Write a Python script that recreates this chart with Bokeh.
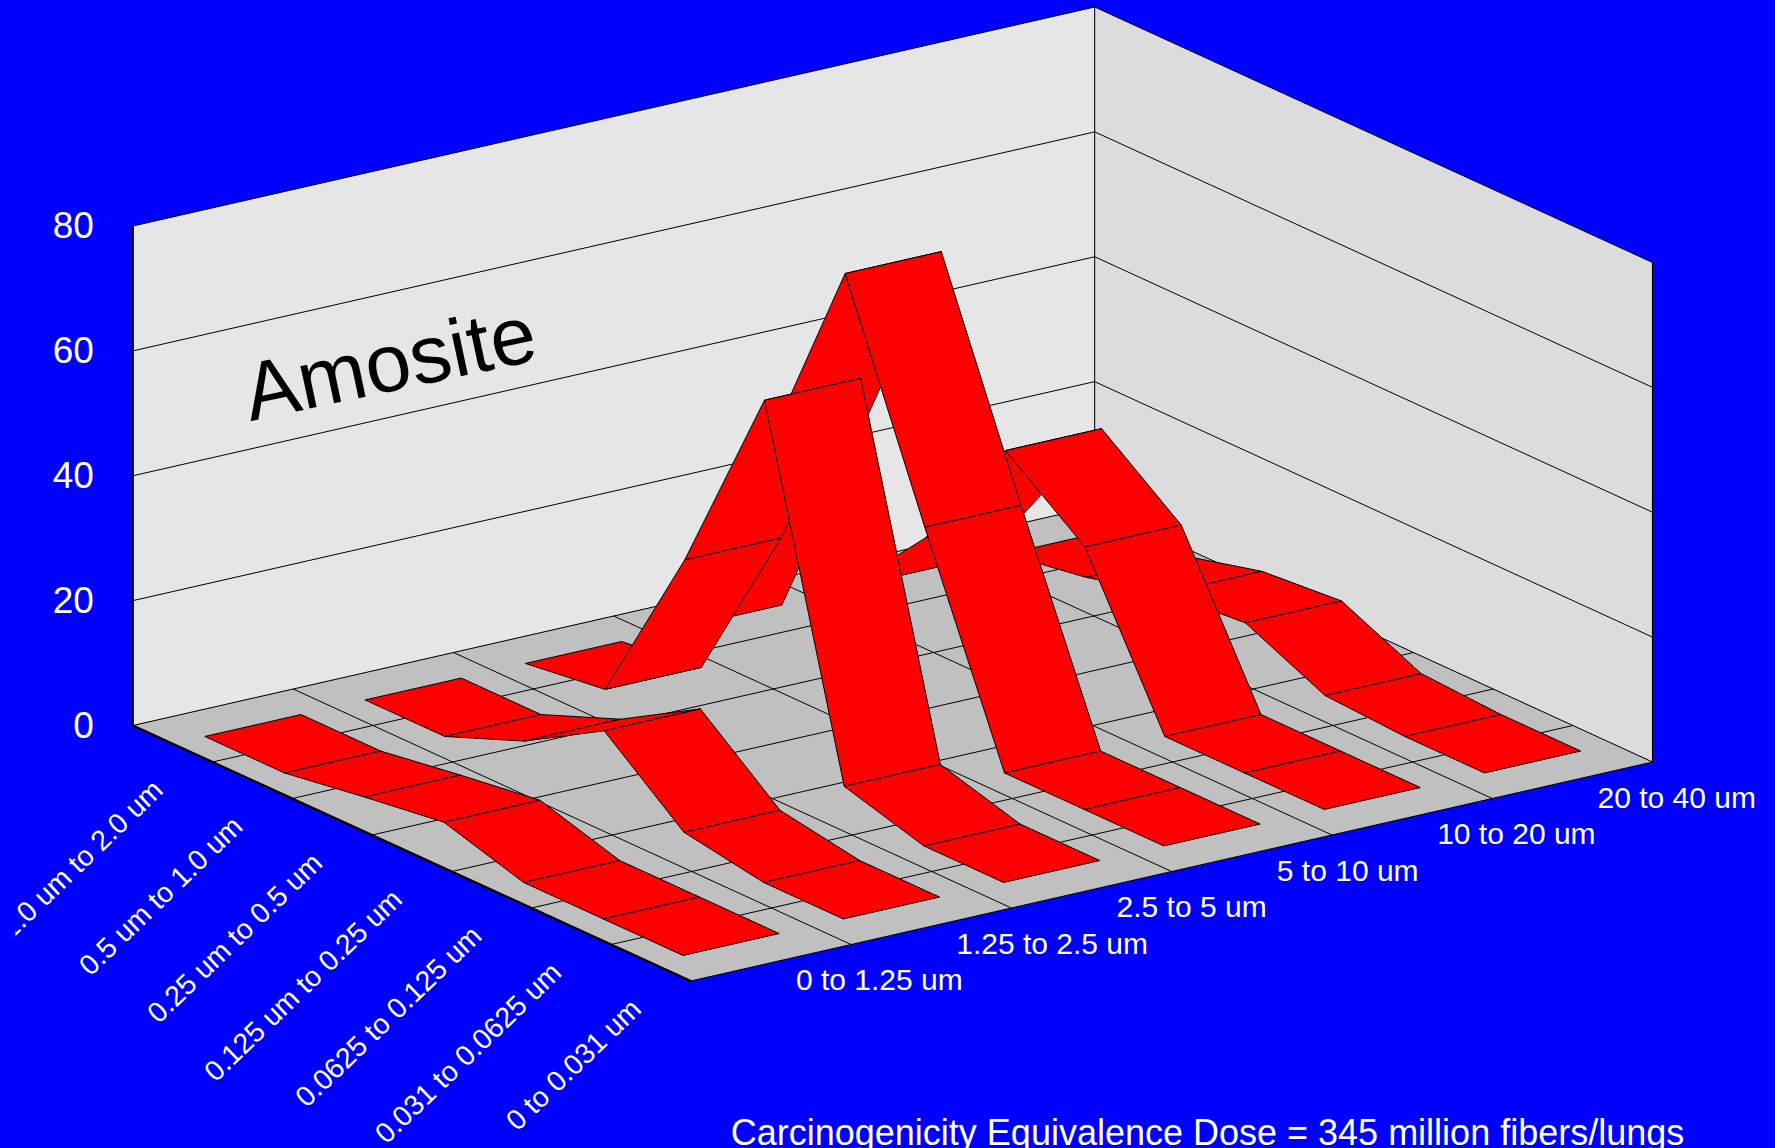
from bokeh.core.properties import value
from bokeh.embed import file_html
from bokeh.models import Range1d
from bokeh.plotting import figure
from bokeh.resources import INLINE
import math

# Fibre length classes, front ribbon first
length_labels = ["0 to 1.25 um", "1.25 to 2.5 um", "2.5 to 5 um",
                 "5 to 10 um", "10 to 20 um", "20 to 40 um"]
# Fibre width classes, back of the floor first
width_labels = ["1.0 um to 2.0 um", "0.5 um to 1.0 um", "0.25 um to 0.5 um",
                "0.125 um to 0.25 um", "0.0625 to 0.125 um",
                "0.031 to 0.0625 um", "0 to 0.031 um"]
z_ticks = [0, 20, 40, 60, 80]

# One list per length class, one value per width class
len_0_125 = [0, 0, 2.0, 3.8, 0, 0, 0]
len_125_25 = [0, 0, 5.1, 12.6, 2.2, 0, 0]
len_25_5 = [0, 1.7, 28.3, 59.7, 3.7, 0, 0]
len_5_10 = [0, 34.0, 68.3, 33.5, 0, 0, 0]
len_10_20 = [0.4, 14.3, 34.1, 24.5, 0, 0, 0]
len_20_40 = [0, 2.1, 5.4, 6.5, 0.7, 0, 0]
ribbons = [len_0_125, len_125_25, len_25_5, len_5_10, len_10_20, len_20_40]

title_text = "Carcinogenicity Equivalence Dose = 345 million fibers/lungs"
fiber_type = "Amosite"

W, H = 1775, 1148
LEFT_MARGIN = 15  # the plot frame starts here, and text running past it is clipped
FONT = value("Liberation Sans")

# Axonometric projection of the box: floor origin, floor axes and height scale
ORIGIN = (132.4, 725.0)
U_STEP = (79.7, 36.5)
V_STEP = (160.3, -36.5)
Z_PX = 499.5 / 80.0
NU, NV = len(width_labels), len(length_labels)
RIBBON_GAP = 0.2


def project(u, v, z=0.0):
    return (ORIGIN[0] + u * U_STEP[0] + v * V_STEP[0],
            ORIGIN[1] + u * U_STEP[1] + v * V_STEP[1] - z * Z_PX)


def poly(points):
    xy = [project(*pt) for pt in points]
    return [a for a, _ in xy], [b for _, b in xy]


# The blue comes from the element's own background, so frame and border leave no seam
p = figure(width=W, height=H, x_range=Range1d(LEFT_MARGIN, W), y_range=Range1d(H, 0),
           output_backend="svg", toolbar_location=None,
           min_border=0, min_border_left=LEFT_MARGIN,
           background_fill_color=None, border_fill_color=None,
           outline_line_color=None, styles={"background-color": "#0000FF"})
p.axis.visible = False
p.grid.visible = False

zmax = z_ticks[-1]

# Walls and floor
for pts, color in [
    ([(0, 0, 0), (0, NV, 0), (0, NV, zmax), (0, 0, zmax)], "#E6E6E6"),
    ([(0, NV, 0), (NU, NV, 0), (NU, NV, zmax), (0, NV, zmax)], "#DCDCDC"),
]:
    xs, ys = poly(pts)
    p.patch(xs, ys, fill_color=color, line_color=None)
xs, ys = poly([(0, 0), (NU, 0), (NU, NV), (0, NV)])
p.patch(xs, ys, fill_color="#C0C0C0", line_color=None)

# Wall rules at each height tick, plus the box's vertical corner and end edges
for t in z_ticks:
    xs, ys = poly([(0, 0, t), (0, NV, t), (NU, NV, t)])
    p.line(xs, ys, line_color="black", line_width=1)
xs, ys = poly([(0, NV, 0), (0, NV, zmax)])
p.line(xs, ys, line_color="black", line_width=1)
xs, ys = poly([(0, 0, 0), (0, 0, zmax)])
p.line(xs, ys, line_color="black", line_width=2)
xs, ys = poly([(NU, NV, 0), (NU, NV, zmax)])
p.line(xs, ys, line_color="black", line_width=1.4)

# Floor grid
for u in range(1, NU):
    xs, ys = poly([(u, 0), (u, NV)])
    p.line(xs, ys, line_color="black", line_width=1)
for v in range(1, NV):
    xs, ys = poly([(0, v), (NU, v)])
    p.line(xs, ys, line_color="black", line_width=1)
xs, ys = poly([(NU, 0), (NU, NV)])
p.line(xs, ys, line_color="black", line_width=1)
xs, ys = poly([(0, 0), (NU, 0)])
p.line(xs, ys, line_color="black", line_width=2.2)

# Ribbons, painted from the back of the box towards the viewer
for i in reversed(range(NV)):
    series = ribbons[i]
    v0, v1 = i + RIBBON_GAP, i + 1 - RIBBON_GAP
    for j in range(NU - 1):
        u0, u1 = j + 0.5, j + 1.5
        xs, ys = poly([(u0, v0, series[j]), (u0, v1, series[j]),
                       (u1, v1, series[j + 1]), (u1, v0, series[j + 1])])
        p.patch(xs, ys, fill_color="#FF0000", line_color="black", line_width=1,
                line_join="miter")

# Height tick labels
for t in z_ticks:
    x, y = project(0, 0, t)
    p.text([x - 39], [y - 1], text=[str(t)], text_color="white", text_font=FONT,
           text_font_size="37px", text_align="right", text_baseline="middle")

# Length class labels along the front edge
for i, label in enumerate(length_labels):
    x, y = project(NU, i + 0.5)
    p.text([x + 25], [y + 17], text=[label], text_color="white", text_font=FONT,
           text_font_size="30px", text_align="left", text_baseline="middle")

# Width class labels along the left edge
for j, label in enumerate(width_labels):
    x, y = project(j + 0.5, 0)
    p.text([x - 15], [y + 41], text=[label], text_color="white", text_font=FONT,
           text_font_size="28.5px", text_align="right", text_baseline="middle",
           angle=math.radians(44))

p.text([1207], [1132], text=[title_text], text_color="white", text_font=FONT,
       text_font_size="36px", text_align="center", text_baseline="middle")
p.text([389], [362], text=[fiber_type], text_color="black", text_font=FONT,
       text_font_size="82px", text_align="center", text_baseline="middle",
       angle=math.radians(12))

open("out.html", "w").write(file_html(p, INLINE))
